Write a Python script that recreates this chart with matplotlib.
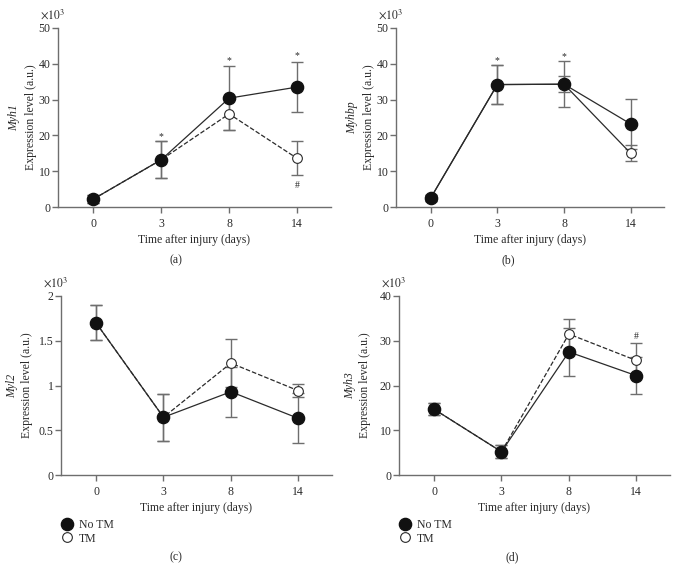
import matplotlib
matplotlib.use("Agg")
import matplotlib.pyplot as plt
from matplotlib.lines import Line2D
from matplotlib.ticker import FuncFormatter

plt.rcParams['font.family'] = ['Liberation Serif', 'DejaVu Serif']
plt.rcParams['mathtext.fontset'] = 'stix'

# data (values in units of the axis, x10^3)
days = ['0', '3', '8', '14']

genes = ['Myh1', 'Myhbp', 'Myl2', 'Myh3']
panel_tags = ['(a)', '(b)', '(c)', '(d)']

myh1_notm = [2.2, 13.2, 30.4, 33.5]
myh1_notm_err = [1.2, 5.2, 9.0, 7.0]
myh1_tm = [2.2, 13.2, 26.0, 13.6]
myh1_tm_err = [1.2, 5.2, 4.4, 4.8]

myhbp_notm = [2.5, 34.2, 34.3, 23.2]
myhbp_notm_err = [0.8, 5.4, 6.4, 6.9]
myhbp_tm = [2.5, 34.2, 34.3, 15.0]
myhbp_tm_err = [0.8, 5.4, 2.3, 2.2]

myl2_notm = [1.70, 0.645, 0.93, 0.633]
myl2_notm_err = [0.195, 0.265, 0.28, 0.28]
myl2_tm = [1.70, 0.645, 1.25, 0.942]
myl2_tm_err = [0.195, 0.265, 0.27, 0.072]

myh3_notm = [14.7, 5.2, 27.5, 22.2]
myh3_notm_err = [1.4, 1.4, 5.3, 4.1]
myh3_tm = [14.7, 5.2, 31.5, 25.6]
myh3_tm_err = [1.4, 1.4, 3.3, 3.9]

ymax = [50, 50, 2, 40]
ystep = [10, 10, 0.5, 10]

# significance marks: (panel, day index, y, symbol)
marks = [
    (0, 1, 19.7, '*'), (0, 2, 40.8, '*'), (0, 3, 42.2, '*'), (0, 3, 6.0, '#'),
    (1, 1, 40.8, '*'), (1, 2, 42.0, '*'),
    (3, 3, 31.0, '#'),
]

notm = [(myh1_notm, myh1_notm_err), (myhbp_notm, myhbp_notm_err),
        (myl2_notm, myl2_notm_err), (myh3_notm, myh3_notm_err)]
tm = [(myh1_tm, myh1_tm_err), (myhbp_tm, myhbp_tm_err),
      (myl2_tm, myl2_tm_err), (myh3_tm, myh3_tm_err)]
tm_style = ['--', '-', '--', '--']

W, H = 676., 572.
# axes boxes in pixels: left, right, bottom, top
boxes = [(58, 331, 207, 28), (396, 664, 207, 28),
         (61, 332, 475, 296), (399, 670, 475, 296)]
# y label offsets left of the axis, pixels: gene name, expression
lab_off = [(44, 27), (44, 27), (49, 34), (49, 34)]
tag_pos = [(176, 260), (508, 260), (176, 557), (512, 557)]

fig = plt.figure(figsize=(W / 100, H / 100), dpi=100)

dark = '#2a2a2a'
grey = '#6e6e6e'
x = list(range(len(days)))

for i in range(4):
    l, r, b, t = boxes[i]
    ax = fig.add_axes([l / W, 1 - b / H, (r - l) / W, (b - t) / H])

    y1, e1 = notm[i]
    y2, e2 = tm[i]
    ax.errorbar(x, y2, yerr=e2, fmt='none', ecolor=grey, elinewidth=1,
                capsize=4, capthick=1, zorder=2)
    ax.errorbar(x, y1, yerr=e1, fmt='none', ecolor=grey, elinewidth=1,
                capsize=4, capthick=1, zorder=2)
    ax.plot(x, y2, linestyle=tm_style[i], color=dark, lw=0.9, zorder=3)
    ax.plot(x, y1, linestyle='-', color=dark, lw=0.9, zorder=3)
    ax.plot(x, y2, 'o', ms=7, mfc='white', mec=dark, mew=0.8, zorder=4)
    ax.plot(x, y1, 'o', ms=8.8, mfc='#111111', mec='#111111', zorder=5)

    for p, d, yv, s in marks:
        if p == i:
            ax.text(d, yv, s, ha='center', va='center', fontsize=7, color=dark)

    ax.set_xlim(-0.52, 3.5)
    ax.set_ylim(0, ymax[i])
    ax.set_xticks(x)
    ax.set_xticklabels(days)
    yt = [k * ystep[i] for k in range(int(round(ymax[i] / ystep[i])) + 1)]
    ax.set_yticks(yt)
    ax.yaxis.set_major_formatter(FuncFormatter(lambda v, pos: '{:g}'.format(v)))

    for s in ['top', 'right']:
        ax.spines[s].set_visible(False)
    for s in ['left', 'bottom']:
        ax.spines[s].set_color(grey)
        ax.spines[s].set_linewidth(1)
    ax.tick_params(direction='out', length=4, width=1, color=grey,
                   labelsize=8.5, labelcolor=dark)
    ax.tick_params(axis='y', pad=1.5)
    ax.tick_params(axis='x', pad=4)

    ax.set_xlabel('Time after injury (days)', fontsize=8.5, color=dark, labelpad=3)
    wpx = r - l
    ax.text(-lab_off[i][0] / wpx, 0.5, genes[i], transform=ax.transAxes,
            rotation=90, ha='center', va='center', fontsize=8.5,
            style='italic', color=dark)
    ax.text(-lab_off[i][1] / wpx, 0.5, 'Expression level (a.u.)',
            transform=ax.transAxes, rotation=90, ha='center', va='center',
            fontsize=8.5, color=dark)
    ax.text(-0.02, 1.075, r'$\times10^3$', transform=ax.transAxes,
            ha='center', va='center', fontsize=8.5, color=dark)

    fig.text(tag_pos[i][0] / W, 1 - tag_pos[i][1] / H, panel_tags[i],
             ha='center', va='center', fontsize=8.5, color=dark)

    if i >= 2:
        handles = [Line2D([], [], ls='none', marker='o', ms=8.8, mfc='#111111',
                          mec='#111111'),
                   Line2D([], [], ls='none', marker='o', ms=7, mfc='white',
                          mec=dark, mew=0.8)]
        ax.legend(handles, ['No TM', 'TM'], loc='upper left',
                  bbox_to_anchor=(0.0, -0.245), frameon=False, fontsize=8.5,
                  handlelength=1.0, handletextpad=0.5, labelspacing=0.15,
                  borderaxespad=0, borderpad=0, labelcolor=dark)

fig.savefig('out.png', dpi=100)
